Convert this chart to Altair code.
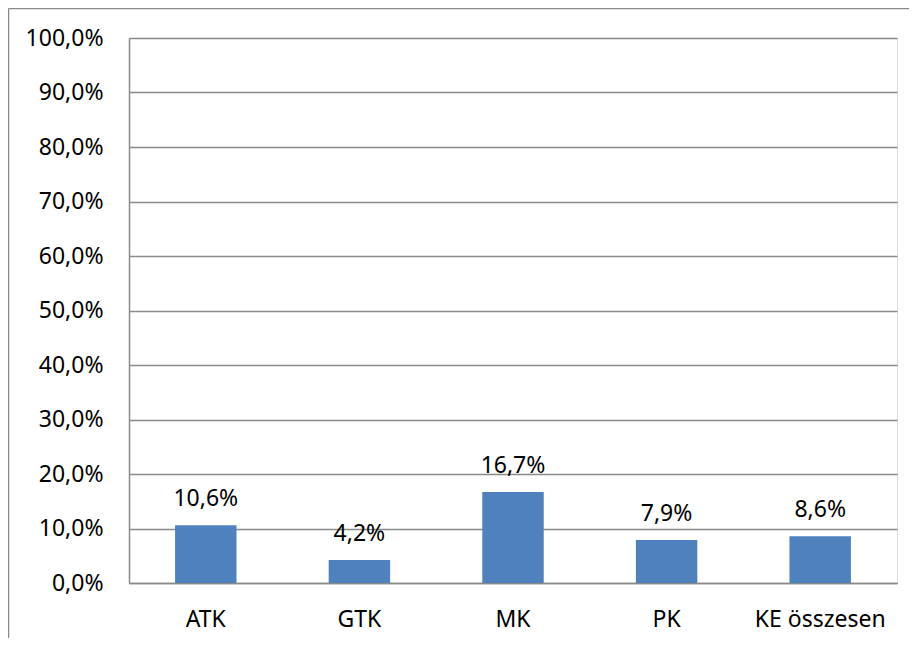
import altair as alt
import pandas as pd

categories = ["ATK", "GTK", "MK", "PK", "KE összesen"]
values = [0.106, 0.042, 0.167, 0.079, 0.086]
y_ticks = [0, 0.1, 0.2, 0.3, 0.4, 0.5, 0.6, 0.7, 0.8, 0.9, 1.0]

df = pd.DataFrame({"cat": categories, "val": values})

FONT = "Noto Sans"
GRAY = "#8a8a8a"
BLUE = "#4F81BD"
FS = 23

x = alt.X("cat:N", sort=categories, title=None,
          scale=alt.Scale(paddingInner=0.6, paddingOuter=0.3),
          axis=alt.Axis(labelAngle=0, labelFont=FONT, labelFontSize=FS, labelColor="#000000",
                        labelPadding=25, ticks=False, domainColor=GRAY, domainWidth=1.5,
                        grid=False))
y = alt.Y("val:Q", title=None,
          scale=alt.Scale(domain=[0, 1], nice=False),
          axis=alt.Axis(values=y_ticks, labelFont=FONT, labelFontSize=FS, labelColor="#000000",
                        labelPadding=26, ticks=False, domainColor=GRAY, domainWidth=1.5,
                        gridColor=GRAY, gridWidth=1.5,
                        labelExpr="replace(format(datum.value, '.1%'), '.', ',')"))

base = alt.Chart(df)
bars = base.mark_bar(color=BLUE).encode(x=x, y=y)
labels = base.transform_calculate(
    lbl="replace(format(datum.val, '.1%'), '.', ',')"
).mark_text(font=FONT, fontSize=FS, color="#000000", baseline="alphabetic", dy=-19).encode(
    x=alt.X("cat:N", sort=categories), y=alt.Y("val:Q"), text="lbl:N")

frame_df = pd.DataFrame({"k": [0]})
left_line = alt.Chart(frame_df).mark_rule(color=GRAY, strokeWidth=1.5).encode(
    x=alt.value(-120.5), y=alt.value(-29.5), y2=alt.value(620))
top_line = alt.Chart(frame_df).mark_rule(color=GRAY, strokeWidth=1.5).encode(
    x=alt.value(-120.5), x2=alt.value(800), y=alt.value(-29.5))

chart = alt.layer(bars, labels, left_line, top_line).properties(
    width=768, height=545,
    autosize=alt.AutoSizeParams(type="none"),
    padding={"left": 121, "top": 30, "right": 12, "bottom": 55},
).configure_view(stroke=None).configure(background="white")

chart.save("out.html", embed_options={"renderer": "svg", "actions": False})
